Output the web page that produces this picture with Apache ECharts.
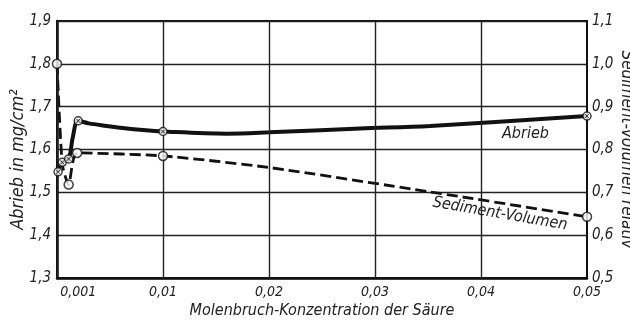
<!DOCTYPE html>
<html><head><meta charset="utf-8">
<script src="https://cdn.jsdelivr.net/npm/echarts@6/dist/echarts.min.js"></script>
<style>html,body{margin:0;padding:0;background:#fff}#c{width:630px;height:323px}</style>
</head><body><div id="c"></div>
<script>
// x positions as drawn on the chart's (distorted near zero) concentration axis
const xTickValues = [0.002, 0.01, 0.02, 0.03, 0.04, 0.05];
const xTickLabels = ['0,001', '0,01', '0,02', '0,03', '0,04', '0,05'];

// Abrieb (mg/cm²), left axis — curve
const abriebCurveX = [0.0001, 0.0005, 0.0011, 0.0015, 0.002, 0.003, 0.0047, 0.0062, 0.0078, 0.01, 0.016, 0.02, 0.0286, 0.0352, 0.05];
const abriebCurveY = [1.548, 1.570, 1.578, 1.630, 1.667, 1.661, 1.655, 1.650, 1.646, 1.642, 1.637, 1.640, 1.649, 1.655, 1.678];
const abriebPointX = [0.0001, 0.0005, 0.0011, 0.002, 0.01, 0.05];
const abriebPointY = [1.548, 1.570, 1.578, 1.667, 1.642, 1.678];

// Sediment-Volumen relativ, right axis
const sedCurveX = [0, 0.0005, 0.0011, 0.0019, 0.01, 0.02, 0.0352, 0.05];
const sedCurveY = [1.0, 0.765, 0.718, 0.792, 0.785, 0.758, 0.701, 0.643];
const sedPointX = [0, 0.0011, 0.0019, 0.01, 0.05];
const sedPointY = [1.0, 0.718, 0.792, 0.785, 0.643];

const FONT = '"DejaVu Sans Condensed", "DejaVu Sans", sans-serif';
const zip = (a, b) => a.map((v, i) => [v, b[i]]);
const comma = v => (Math.round(v * 10) / 10).toFixed(1).replace('.', ',');

const chart = echarts.init(document.getElementById('c'), null, {renderer: 'canvas'});
chart.setOption({
  animation: false,
  backgroundColor: '#fff',
  grid: {left: 57, right: 43, top: 21, bottom: 45, outerBoundsMode: 'none', containLabel: false,
    show: true, borderColor: '#111', borderWidth: 2, backgroundColor: 'transparent'},
  xAxis: {
    type: 'value', min: 0, max: 0.05, interval: 0.002,
    axisLine: {show: true, lineStyle: {color: '#111', width: 2.5}},
    axisTick: {show: false}, splitLine: {show: false},
    axisLabel: {
      color: '#222', fontFamily: FONT, fontStyle: 'italic', fontSize: 14, margin: 7,
      formatter: v => { const i = xTickValues.findIndex(t => Math.abs(t - v) < 1e-6); return i >= 0 ? xTickLabels[i] : ''; }
    },
    name: 'Molenbruch-Konzentration der Säure', nameLocation: 'middle', nameGap: 25, nameMoveOverlap: false,
    nameTextStyle: {color: '#222', fontFamily: FONT, fontStyle: 'italic', fontSize: 16}
  },
  yAxis: [{
    type: 'value', min: 1.3, max: 1.9, interval: 0.1,
    axisLine: {show: true, lineStyle: {color: '#111', width: 2.5}},
    axisTick: {show: false},
    splitLine: {show: true, lineStyle: {color: '#222', width: 1.4}},
    axisLabel: {color: '#222', fontFamily: FONT, fontStyle: 'italic', fontSize: 15, margin: 6, formatter: comma},
    name: 'Abrieb in mg/cm²', nameLocation: 'middle', nameGap: 30, nameRotate: 90, nameMoveOverlap: false,
    nameTextStyle: {color: '#222', fontFamily: FONT, fontStyle: 'italic', fontSize: 18, padding: [0, 20, 0, 0]}
  }, {
    type: 'value', min: 0.5, max: 1.1, interval: 0.1, position: 'right',
    axisLine: {show: true, lineStyle: {color: '#111', width: 2}},
    axisTick: {show: false}, splitLine: {show: false},
    axisLabel: {color: '#222', fontFamily: FONT, fontStyle: 'italic', fontSize: 15, margin: 5, formatter: comma},
    name: 'Sediment-Volumen relativ', nameLocation: 'middle', nameGap: 31, nameRotate: -90, nameMoveOverlap: false,
    nameTextStyle: {color: '#222', fontFamily: FONT, fontStyle: 'italic', fontSize: 17}
  }],
  series: [
    {type: 'line', name: 'grid', data: [], markLine: {
      silent: true, symbol: 'none', label: {show: false},
      lineStyle: {color: '#222', width: 1.4, type: 'solid'},
      data: xTickValues.slice(0, -1).map(v => ({xAxis: v}))
    }},
    {type: 'line', name: 'Abrieb', yAxisIndex: 0, data: zip(abriebCurveX, abriebCurveY),
      smooth: 0.35, showSymbol: false, symbol: 'none',
      lineStyle: {color: '#111', width: 4}, z: 3},
    {type: 'line', name: 'Sediment', yAxisIndex: 1, data: zip(sedCurveX, sedCurveY),
      smooth: 0.2, showSymbol: false, symbol: 'none',
      lineStyle: {color: '#111', width: 2.8, type: [11, 5]}, z: 3},
    {type: 'scatter', yAxisIndex: 0, data: zip(abriebPointX, abriebPointY), symbol: 'circle', symbolSize: 8,
      itemStyle: {color: '#fff', borderColor: '#111', borderWidth: 1.5}, z: 5},
    {type: 'scatter', yAxisIndex: 0, data: zip(abriebPointX, abriebPointY), symbol: 'path://M0,0L10,10M10,0L0,10', symbolSize: 4,
      itemStyle: {color: 'transparent', borderColor: '#111', borderWidth: 1}, z: 6},
    {type: 'scatter', yAxisIndex: 1, data: zip(sedPointX, sedPointY), symbol: 'circle', symbolSize: 9,
      itemStyle: {color: '#fff', borderColor: '#111', borderWidth: 1.5}, z: 5}
  ],
  graphic: [
    {type: 'text', left: 502, top: 126, style: {text: 'Abrieb', fill: '#222', font: 'italic 16px ' + FONT}},
    {type: 'text', x: 500, y: 214, rotation: -0.17, originX: 0, originY: 0,
      style: {text: 'Sediment-Volumen', fill: '#222', font: 'italic 16px ' + FONT, align: 'center', verticalAlign: 'middle'}}
  ]
});
</script></body></html>
